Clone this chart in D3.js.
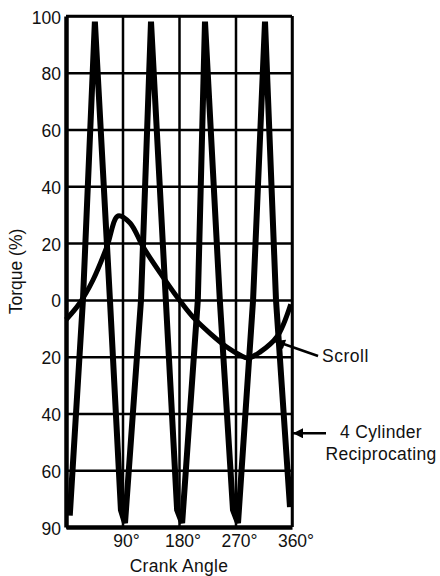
<!DOCTYPE html>
<html>
<head>
<meta charset="utf-8">
<script src="https://cdn.jsdelivr.net/npm/d3@7"></script>
<style>
  body { margin: 0; background: #fff; }
  #chart { width: 440px; height: 576px; }
  text { font-family: 'Liberation Sans', Arial, sans-serif; fill: #111; }
</style>
</head>
<body>
<div id="chart"></div>
<script>
'use strict';

// Tick values and the labels printed next to them (lower half reads as magnitude).
var yTickValues = [100, 80, 60, 40, 20, 0, -20, -40, -60, -80];
var yTickLabels = ['100', '80', '60', '40', '20', '0', '20', '40', '60', '90'];
var xTickValues = [90, 180, 270, 360];
var xTickLabels = ['90°', '180°', '270°', '360°'];

// 4 cylinder reciprocating torque.
var recipAngle  = [6, 27, 46, 70, 87.5, 94, 119.5, 135.4, 159, 177, 185, 210, 221.4, 245, 266, 274, 298, 317, 334.5, 356.8];
var recipTorque = [-76, 0, 98, 0, -74, -78.6, 0, 98, 0, -74, -78.6, 0, 98, 0, -74, -78.6, 0, 98, 0, -73];

// Scroll torque.
var scrollAngle  = [0, 22, 43, 65, 83, 102, 123, 150, 177, 202, 229, 256, 277, 290, 309, 336, 358];
var scrollTorque = [-7, -1.1, 7, 18.6, 29.6, 27.1, 18.6, 9.5, 1, -6, -11.7, -16.6, -19.4, -20.5, -18.4, -13, -1.5];

(function() {

  var width = 440, height = 576;
  var margin = {top: 16, bottom: 49, left: 66, right: 148};
  var chartW = width - margin.left - margin.right;
  var chartH = height - margin.top - margin.bottom;

  var xScale = d3.scaleLinear().domain([0, 360]).range([0, chartW]);
  var yScale = d3.scaleLinear().domain([-80, 100]).range([chartH, 0]);

  var svg = d3.select('#chart').append('svg')
      .attr('width', width)
      .attr('height', height);

  var defs = svg.append('defs');
  defs.append('marker')
      .attr('id', 'arrow')
      .attr('viewBox', '0 0 10 10')
      .attr('refX', 10)
      .attr('refY', 5)
      .attr('markerUnits', 'userSpaceOnUse')
      .attr('markerWidth', 13)
      .attr('markerHeight', 10)
      .attr('orient', 'auto')
    .append('path')
      .attr('d', 'M0,0L10,5L0,10Z')
      .attr('fill', '#000');

  var inner = svg.append('g').attr('transform', translation(margin.left, margin.top));

  // The grid lines.
  inner.append('g')
      .attr('class', 'grid-y')
      .call(d3.axisLeft(yScale).tickValues(yTickValues).tickSize(-chartW).tickFormat(''))
      .call(function(g) {
        g.select('.domain').remove();
        g.selectAll('line').attr('stroke', '#000').attr('stroke-width', 2.5);
      });

  inner.append('g')
      .attr('class', 'grid-x')
      .attr('transform', translation(0, chartH))
      .call(d3.axisBottom(xScale).tickValues(xTickValues).tickSize(-chartH).tickFormat(''))
      .call(function(g) {
        g.select('.domain').remove();
        g.selectAll('line').attr('stroke', '#000').attr('stroke-width', 2.5);
      });

  // The curves.
  var line = d3.line()
      .x(function(d) { return xScale(d[0]); })
      .y(function(d) { return yScale(d[1]); });

  inner.append('path')
      .datum(d3.zip(scrollAngle, scrollTorque))
      .attr('d', line.curve(d3.curveCatmullRom.alpha(0.5)))
      .attr('fill', 'none')
      .attr('stroke', '#000')
      .attr('stroke-width', 5)
      .attr('stroke-linejoin', 'round');

  inner.append('path')
      .datum(d3.zip(recipAngle, recipTorque))
      .attr('d', line.curve(d3.curveLinear))
      .attr('fill', 'none')
      .attr('stroke', '#000')
      .attr('stroke-width', 6)
      .attr('stroke-linejoin', 'miter')
      .attr('stroke-miterlimit', 2);

  // Axes, drawn over the curves.
  inner.append('g')
      .attr('class', 'axis-y')
      .call(d3.axisLeft(yScale).tickValues(yTickValues).tickSize(0).tickSizeOuter(0).tickPadding(5)
        .tickFormat(function(d, i) { return yTickLabels[i]; }))
      .call(function(g) {
        g.select('.domain').attr('stroke', '#000').attr('stroke-width', 4.5);
        g.selectAll('text').attr('font-size', 17.5).attr('dy', '0.4em').style('font-family', null);
      });

  inner.append('g')
      .attr('class', 'axis-x')
      .attr('transform', translation(0, chartH))
      .call(d3.axisBottom(xScale).tickValues(xTickValues).tickSize(0).tickSizeOuter(0).tickPadding(8)
        .tickFormat(function(d, i) { return xTickLabels[i]; }))
      .call(function(g) {
        g.select('.domain').attr('stroke', '#000').attr('stroke-width', 4.5);
        g.selectAll('text').attr('font-size', 17.5).attr('dx', '0.2em').style('font-family', null);
      });

  // Top and right borders are thinner.
  inner.append('line')
      .attr('x1', 0).attr('x2', chartW)
      .attr('y1', yScale(100)).attr('y2', yScale(100))
      .attr('stroke', '#000').attr('stroke-width', 2.5);
  inner.append('line')
      .attr('x1', xScale(360)).attr('x2', xScale(360))
      .attr('y1', 0).attr('y2', chartH)
      .attr('stroke', '#000').attr('stroke-width', 2.5);

  // Axis titles.
  inner.append('text')
      .attr('x', chartW / 2)
      .attr('y', chartH + 45)
      .attr('text-anchor', 'middle')
      .attr('font-size', 17.5)
      .attr('letter-spacing', 0.3)
      .text('Crank Angle');

  inner.append('text')
      .attr('transform', translation(-44, chartH / 2) + ' rotate(-90)')
      .attr('text-anchor', 'middle')
      .attr('font-size', 17.5)
      .text('Torque (%)');

  // Annotations with arrows.
  var scrollTipX = xScale(333), scrollTipY = yScale(-14.5);
  inner.append('line')
      .attr('x1', scrollTipX + 43).attr('y1', scrollTipY + 15)
      .attr('x2', scrollTipX).attr('y2', scrollTipY)
      .attr('stroke', '#000').attr('stroke-width', 2.5)
      .attr('marker-end', 'url(#arrow)');
  inner.append('text')
      .attr('x', scrollTipX + 47)
      .attr('y', scrollTipY + 21)
      .attr('font-size', 17.5)
      .attr('letter-spacing', 0.5)
      .text('Scroll');

  var recipTipX = xScale(360) + 1, recipTipY = yScale(-47);
  inner.append('line')
      .attr('x1', recipTipX + 33).attr('y1', recipTipY)
      .attr('x2', recipTipX).attr('y2', recipTipY)
      .attr('stroke', '#000').attr('stroke-width', 2.5)
      .attr('marker-end', 'url(#arrow)');
  var label = inner.append('text')
      .attr('text-anchor', 'middle')
      .attr('font-size', 17.5)
      .attr('letter-spacing', 0.3);
  label.append('tspan')
      .attr('x', recipTipX + 88).attr('y', recipTipY + 5)
      .text('4 Cylinder');
  label.append('tspan')
      .attr('x', recipTipX + 88).attr('y', recipTipY + 27)
      .text('Reciprocating');

  /**
   * Saves writing translate() by hand.
   */
  function translation(x, y) {
    return 'translate(' + x + ',' + y + ')';
  }

}());
</script>
</body>
</html>
